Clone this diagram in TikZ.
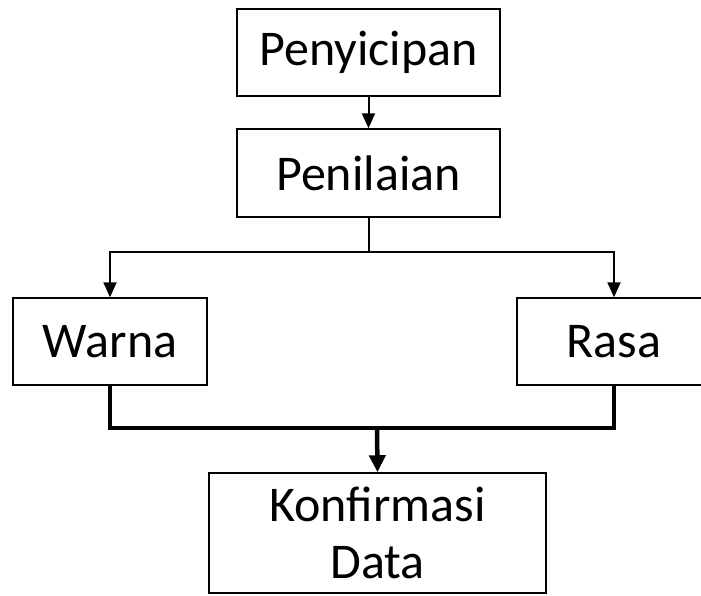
\documentclass[tikz,border=0pt]{standalone}
\usepackage{fontspec}
\setmainfont{Carlito}
\usetikzlibrary{arrows.meta}
\begin{document}
\begin{tikzpicture}[x=1pt,y=-1pt]
	\tikzstyle{every node}=[font=\fontsize{50pt}{57pt}\selectfont]
	\tikzstyle{kotak}=[draw={rgb,255:red,2; green,2; blue,2}, line width=1.5pt, fill=white, inner sep=0pt, align=center]
	\tikzstyle{tipis}=[color={rgb,255:red,2; green,2; blue,2}, line width=2pt, -{Triangle[length=15pt,width=13pt]}]
	\tikzstyle{tebal}=[color={rgb,255:red,2; green,2; blue,2}, line width=4.5pt]
	\useasboundingbox (0,0) rectangle (701,595);
	
	\node[kotak, minimum width=263pt, minimum height=87pt] (pny) at (368.5,52.5) {Penyicipan};
	\node[kotak, minimum width=263pt, minimum height=88pt] (pnl) at (368.5,173) {Penilaian};
	\node[kotak, minimum width=194pt, minimum height=87pt] (wrn) at (110,341.5) {Warna};
	\node[kotak, minimum width=194pt, minimum height=87pt] (rsa) at (614,341.5) {Rasa};
	\node[kotak, minimum width=337pt, minimum height=120pt] (konf) at (377.5,533) {Konfirmasi\\Data};
	
	\coordinate (cab) at (368.5,252);
	\coordinate (gab) at (377,428);
	
	\draw[tipis] (pny) -- (pnl);
	\draw[tipis] (pnl.south) -- (cab) -| (wrn.north);
	\draw[tipis] (cab) -| (rsa.north);
	
	\draw[tebal] (wrn.south) |- (gab) -| (rsa.south);
	\draw[tebal, -{Triangle[length=17pt,width=16pt]}] (gab) -- (konf.north);
	
\end{tikzpicture}
\end{document}
